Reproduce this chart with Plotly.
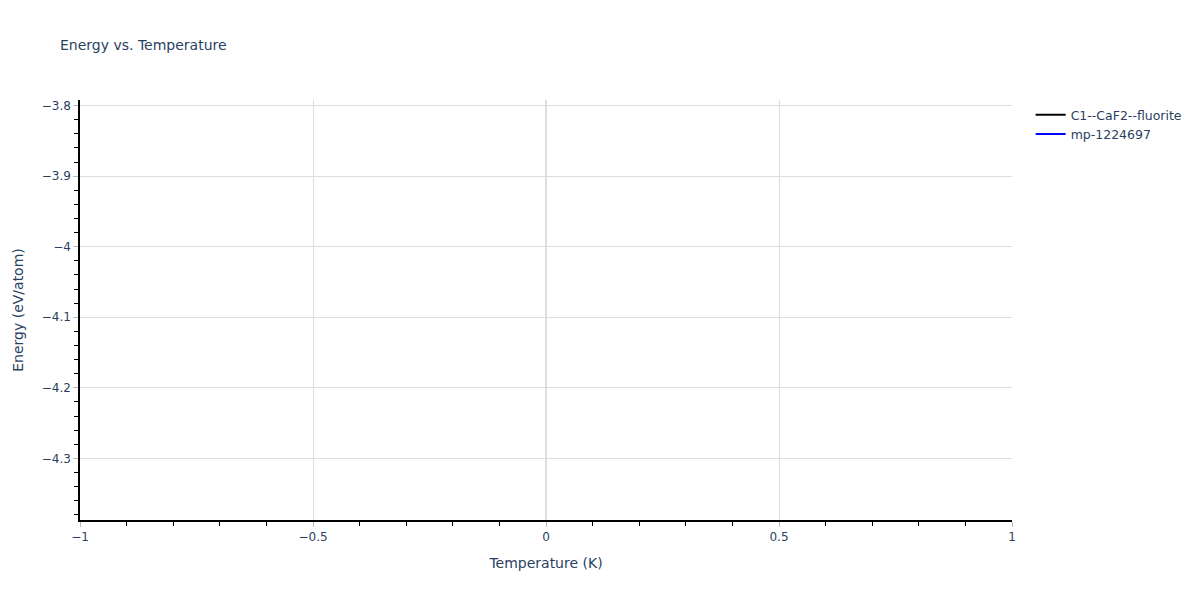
import plotly.graph_objects as go

# single-temperature data (one point per structure, so no visible line)
temperatures = [0]
energy_fluorite = [-3.823]
energy_mp = [-4.358]

series_names = ["C1--CaF2--fluorite", "mp-1224697"]
series_colors = ["black", "blue"]

fig = go.Figure()

for name, y, color in zip(series_names, [energy_fluorite, energy_mp], series_colors):
    fig.add_trace(go.Scatter(
        x=temperatures,
        y=y,
        mode="lines",
        name=name,
        line=dict(color=color, width=2),
    ))

axis_style = dict(
    showgrid=True,
    gridcolor="#dddddd",
    showline=True,
    linecolor="black",
    linewidth=1.5,
    ticks="outside",
    tickcolor="#bbbbbb",
    ticklen=5,
    zeroline=True,
    zerolinecolor="#dddddd",
    zerolinewidth=2,
)

fig.update_layout(
    title=dict(text="Energy vs. Temperature", x=0.05, font=dict(size=14)),
    template="plotly_white",
    plot_bgcolor="white",
    font=dict(family="DejaVu Sans", size=12, color="#2a3f5f"),
    width=1200,
    height=600,
    xaxis=dict(
        title=dict(text="Temperature (K)", font=dict(size=14)),
        range=[-1, 1],
        dtick=0.5,
        minor=dict(ticks="outside", dtick=0.1, ticklen=4, tickcolor="black", showgrid=False),
        **axis_style,
    ),
    yaxis=dict(
        title=dict(text="Energy (eV/atom)", font=dict(size=14)),
        range=[-4.3874, -3.792],
        dtick=0.1,
        minor=dict(ticks="outside", dtick=0.02, ticklen=4, tickcolor="black", showgrid=False),
        **axis_style,
    ),
    legend=dict(x=1.02, y=1, xanchor="left", yanchor="top", font=dict(size=12.5)),
)

# the page body has a default margin; drop it so the figure sits at the top-left corner
fig.write_html(
    "out.html",
    config={"displayModeBar": False},
    post_script="document.body.style.margin='0';",
)
